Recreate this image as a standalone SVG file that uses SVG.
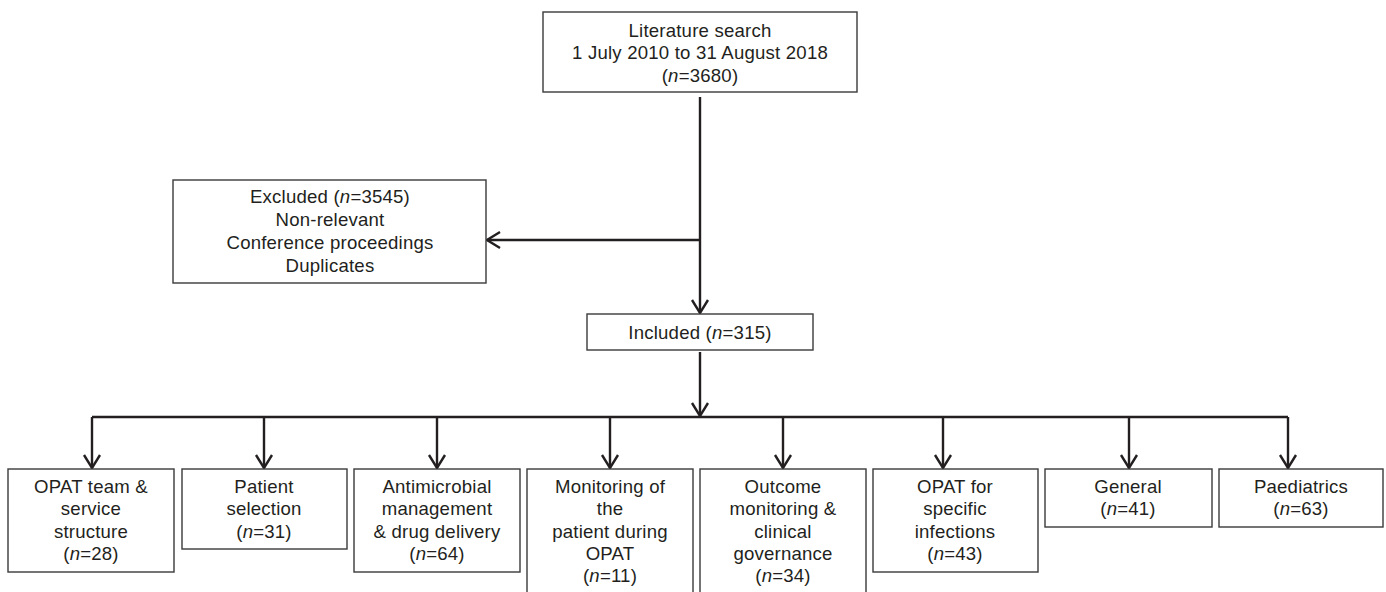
<svg xmlns="http://www.w3.org/2000/svg" width="1386" height="592" viewBox="0 0 1386 592">
<defs>
<marker id="ah" markerUnits="userSpaceOnUse" markerWidth="20" markerHeight="20" viewBox="-15 -10 17 20" refX="0" refY="0" orient="auto">
<path d="M-13,-8 L0,0 L-13,8" fill="none" stroke="#231f20" stroke-width="2.4" stroke-linejoin="miter"/>
</marker>
</defs>
<style>
.box{fill:#fff;stroke:#3a3a3a;stroke-width:1.4}
.t{font-family:"Liberation Sans",Arial,sans-serif;font-size:18.6px;letter-spacing:0.2px;fill:#231f20;text-anchor:middle}
.i{font-style:italic}
.c{fill:none;stroke:#231f20;stroke-width:2.4;marker-end:url(#ah)}
.l{fill:none;stroke:#231f20;stroke-width:2.4}
</style>
<rect width="1386" height="592" fill="#fff"/>
<g id="connectors">
<path class="c" d="M700,97 L700,313"/>
<path class="c" d="M700,240 L487,240"/>
<path class="c" d="M700,352 L700,416"/>
<path class="l" d="M92,417 L1288,417"/>
<path class="c" d="M92,417 L92,468"/>
<path class="c" d="M264,417 L264,468"/>
<path class="c" d="M437,417 L437,468"/>
<path class="c" d="M610,417 L610,468"/>
<path class="c" d="M783,417 L783,468"/>
<path class="c" d="M943,417 L943,468"/>
<path class="c" d="M1129,417 L1129,468"/>
<path class="c" d="M1288,417 L1288,468"/>
</g>
<g id="search">
<rect class="box" x="543" y="12" width="314" height="80"/>
<text class="t" x="700" y="37">Literature search</text>
<text class="t" x="700" y="59">1 July 2010 to 31 August 2018</text>
<text class="t" x="700" y="82">(<tspan class="i">n</tspan>=3680)</text>
</g>
<g id="excluded">
<rect class="box" x="173" y="180" width="313" height="103"/>
<text class="t" x="330" y="203">Excluded (<tspan class="i">n</tspan>=3545)</text>
<text class="t" x="330" y="226">Non-relevant</text>
<text class="t" x="330" y="249">Conference proceedings</text>
<text class="t" x="330" y="272">Duplicates</text>
</g>
<g id="included">
<rect class="box" x="587" y="314" width="226" height="36"/>
<text class="t" x="700" y="339">Included (<tspan class="i">n</tspan>=315)</text>
</g>
<g id="opat-team">
<rect class="box" x="8" y="469" width="166" height="103"/>
<text class="t" x="91" y="493">OPAT team &amp;</text>
<text class="t" x="91" y="515">service</text>
<text class="t" x="91" y="538">structure</text>
<text class="t" x="91" y="560">(<tspan class="i">n</tspan>=28)</text>
</g>
<g id="patient-selection">
<rect class="box" x="182" y="469" width="165" height="80"/>
<text class="t" x="264" y="493">Patient</text>
<text class="t" x="264" y="515">selection</text>
<text class="t" x="264" y="538">(<tspan class="i">n</tspan>=31)</text>
</g>
<g id="antimicrobial">
<rect class="box" x="354" y="469" width="166" height="103"/>
<text class="t" x="437" y="493">Antimicrobial</text>
<text class="t" x="437" y="515">management</text>
<text class="t" x="437" y="538">&amp; drug delivery</text>
<text class="t" x="437" y="560">(<tspan class="i">n</tspan>=64)</text>
</g>
<g id="monitoring">
<rect class="box" x="527" y="469" width="166" height="124"/>
<text class="t" x="610" y="493">Monitoring of</text>
<text class="t" x="610" y="515">the</text>
<text class="t" x="610" y="538">patient during</text>
<text class="t" x="610" y="560">OPAT</text>
<text class="t" x="610" y="582">(<tspan class="i">n</tspan>=11)</text>
</g>
<g id="outcome">
<rect class="box" x="700" y="469" width="166" height="124"/>
<text class="t" x="783" y="493">Outcome</text>
<text class="t" x="783" y="515">monitoring &amp;</text>
<text class="t" x="783" y="538">clinical</text>
<text class="t" x="783" y="560">governance</text>
<text class="t" x="783" y="582">(<tspan class="i">n</tspan>=34)</text>
</g>
<g id="specific-infections">
<rect class="box" x="873" y="469" width="165" height="103"/>
<text class="t" x="955" y="493">OPAT for</text>
<text class="t" x="955" y="515">specific</text>
<text class="t" x="955" y="538">infections</text>
<text class="t" x="955" y="560">(<tspan class="i">n</tspan>=43)</text>
</g>
<g id="general">
<rect class="box" x="1045" y="469" width="167" height="58"/>
<text class="t" x="1128" y="493">General</text>
<text class="t" x="1128" y="515">(<tspan class="i">n</tspan>=41)</text>
</g>
<g id="paediatrics">
<rect class="box" x="1219" y="469" width="164" height="58"/>
<text class="t" x="1301" y="493">Paediatrics</text>
<text class="t" x="1301" y="515">(<tspan class="i">n</tspan>=63)</text>
</g>
</svg>
